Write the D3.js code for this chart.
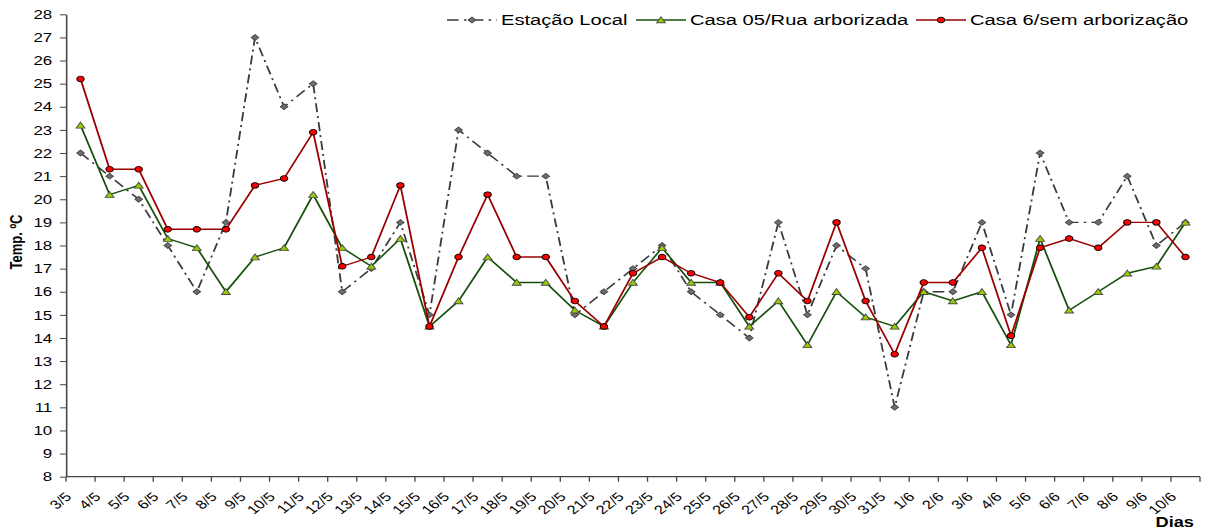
<!DOCTYPE html>
<html>
<head>
<meta charset="utf-8">
<script src="https://cdn.jsdelivr.net/npm/d3@7"></script>
<style>
  body { margin: 0; background: #fff; }
  svg { display: block; }
  text { font-family: "Liberation Sans", Arial, sans-serif; fill: #000; }
</style>
</head>
<body>
<script>
// Daily temperatures (ºC), 3 May to 10 June
const days = ["3/5","4/5","5/5","6/5","7/5","8/5","9/5","10/5","11/5","12/5","13/5","14/5","15/5",
  "16/5","17/5","18/5","19/5","20/5","21/5","22/5","23/5","24/5","25/5","26/5","27/5","28/5",
  "29/5","30/5","31/5","1/6","2/6","3/6","4/6","5/6","6/6","7/6","8/6","9/6","10/6"];

const estacaoLocal = [22,21,20,18,16,19,27,24,25,16,17,19,15,23,22,21,21,15,16,17,18,16,15,14,
  19,15,18,17,11,16,16,19,15,22,19,19,21,18,19];

const casa05 = [23.2,20.2,20.6,18.3,17.9,16,17.5,17.9,20.2,17.9,17.1,18.3,14.5,15.6,17.5,16.4,
  16.4,15.2,14.5,16.4,17.9,16.4,16.4,14.5,15.6,13.7,16,14.9,14.5,16,15.6,16,13.7,18.3,15.2,16,
  16.8,17.1,19];

const casa6 = [25.2,21.3,21.3,18.7,18.7,18.7,20.6,20.9,22.9,17.1,17.5,20.6,14.5,17.5,20.2,17.5,
  17.5,15.6,14.5,16.8,17.5,16.8,16.4,14.9,16.8,15.6,19,15.6,13.3,16.4,16.4,17.9,14.1,17.9,18.3,
  17.9,19,19,17.5];

const yTicks = d3.range(8, 29);
const seriesNames = ["Estação Local", "Casa 05/Rua arborizada", "Casa 6/sem arborização"];

const W = 1205, H = 531;
const SX = 1.3; // the whole drawing is widened horizontally

const svg = d3.select("body").append("svg").attr("width", W).attr("height", H);
const g = svg.append("g").attr("transform", `scale(${SX},1)`);

const plotLeft = 66 / SX, plotRight = 1200 / SX, plotTop = 14.3, plotBottom = 476.7;

const x = d3.scaleBand().domain(days).range([plotLeft, plotRight]).padding(0);
const y = d3.scaleLinear().domain([8, 28]).range([plotBottom, plotTop]);
const cx = d => x(d) + x.bandwidth() / 2;

// Y axis
const yAxis = g.append("g")
  .attr("transform", `translate(${plotLeft},0)`)
  .call(d3.axisLeft(y).tickValues(yTicks).tickSize(4.6).tickSizeOuter(0).tickPadding(6));
yAxis.select(".domain").attr("stroke", "#444").attr("stroke-width", 1.2);
yAxis.selectAll(".tick line").attr("stroke", "#444");
yAxis.selectAll(".tick text").attr("font-size", 13).attr("font-family", "Liberation Sans, Arial, sans-serif");

// X axis: ticks on category boundaries
const xAxis = g.append("g").attr("transform", `translate(0,${plotBottom})`);
xAxis.append("line").attr("x1", plotLeft).attr("x2", plotRight).attr("stroke", "#444").attr("stroke-width", 1.2);
const bounds = d3.range(days.length + 1).map(i => plotLeft + i * x.step());
xAxis.selectAll("line.tk").data(bounds).join("line")
  .attr("class", "tk")
  .attr("x1", d => d).attr("x2", d => d).attr("y1", 0).attr("y2", 5)
  .attr("stroke", "#444");
xAxis.selectAll("text.lbl").data(days).join("text")
  .attr("class", "lbl")
  .attr("font-size", 12.5)
  .attr("text-anchor", "end")
  .attr("transform", d => `translate(${x(d) + 5},${21}) rotate(-45)`)
  .text(d => d);

// Axis titles
g.append("text")
  .attr("font-size", 13).attr("font-weight", "bold")
  .attr("text-anchor", "middle")
  .attr("transform", `translate(${22 / SX},${242}) rotate(-90)`)
  .text("Temp. ºC");
g.append("text")
  .attr("font-size", 14).attr("font-weight", "bold")
  .attr("text-anchor", "end")
  .attr("x", 1194 / SX).attr("y", 527)
  .text("Dias");

// Series styles
const styles = [
  { values: estacaoLocal, stroke: "#3a3a3a", dash: "9,4,2,4", marker: "diamond", fill: "#6e6e6e", mstroke: "#444" },
  { values: casa05, stroke: "#14500a", dash: null, marker: "triangle", fill: "#99cc00", mstroke: "#4a4a4a" },
  { values: casa6, stroke: "#9a0000", dash: null, marker: "circle", fill: "#ff0000", mstroke: "#000" }
];

const symbolPath = {
  diamond: d3.symbol(d3.symbolSquare, 17)(),
  triangle: d3.symbol(d3.symbolTriangle, 20)(),
  circle: d3.symbol(d3.symbolCircle, 25)()
};
const symbolRot = { diamond: 45, triangle: 0, circle: 0 };

const line = d3.line().x((v, i) => cx(days[i])).y(v => y(v));

styles.forEach(s => {
  const sg = g.append("g");
  sg.append("path")
    .attr("d", line(s.values))
    .attr("fill", "none")
    .attr("stroke", s.stroke)
    .attr("stroke-width", 1.4)
    .attr("stroke-dasharray", s.dash);
  sg.selectAll("path.m").data(s.values).join("path")
    .attr("class", "m")
    .attr("d", symbolPath[s.marker])
    .attr("transform", (v, i) => `translate(${cx(days[i])},${y(v) + (s.marker === "triangle" ? 0.8 : 0)}) rotate(${symbolRot[s.marker]})`)
    .attr("fill", s.fill)
    .attr("stroke", s.mstroke)
    .attr("stroke-width", 0.8);
});

// Legend
const legendX = [447, 636, 916].map(v => v / SX);
const legendY = 20;
const lg = g.append("g");
styles.forEach((s, i) => {
  const x0 = legendX[i], x1 = x0 + 50 / SX;
  lg.append("line")
    .attr("x1", x0).attr("x2", x1).attr("y1", legendY).attr("y2", legendY)
    .attr("stroke", s.stroke).attr("stroke-width", 1.5)
    .attr("stroke-dasharray", s.dash);
  lg.append("path")
    .attr("d", symbolPath[s.marker])
    .attr("transform", `translate(${(x0 + x1) / 2},${legendY + (s.marker === "triangle" ? 0.8 : 0)}) rotate(${symbolRot[s.marker]})`)
    .attr("fill", s.fill).attr("stroke", s.mstroke).attr("stroke-width", 0.8);
  lg.append("text")
    .attr("x", x1 + 4 / SX).attr("y", legendY + 5.5)
    .attr("font-size", 15.5)
    .text(seriesNames[i]);
});
</script>
</body>
</html>
